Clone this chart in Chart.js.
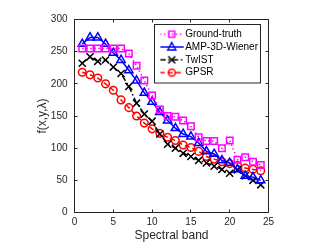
<!DOCTYPE html>
<html>
<head>
<meta charset="utf-8">
<script src="https://cdn.jsdelivr.net/npm/chart.js@4.4.0/dist/chart.umd.min.js"></script>
<style>
  html, body { margin: 0; padding: 0; background: #fff; }
  #wrap { width: 332px; height: 249px; }
</style>
</head>
<body>
<div id="wrap"><canvas id="chart"></canvas></div>
<script>
const bands = [1, 2, 3, 4, 5, 6, 7, 8, 9, 10, 11, 12, 13, 14, 15, 16, 17, 18, 19, 20, 21, 22, 23, 24];

const groundTruth = [255, 255, 255, 255, 255, 255, 247, 228, 205, 182, 160, 150, 149, 143, 134, 117, 111, 111, 100, 112, 82, 86, 79, 74];
const ampWiener = [262, 272, 272, 262, 248, 237, 221, 205, 186, 172, 156, 143, 131, 122, 118, 108, 95, 91, 81, 77, 67, 57, 55, 50];
const twist = [232, 242, 235, 237, 226, 216, 196, 170, 153, 142, 122, 106, 100, 92, 87, 81, 77, 72, 67, 61, 66, 57, 50, 43];
const gpsr = [218, 214, 209, 200, 190, 175, 163, 150, 139, 130, 123, 117, 112, 105, 101, 95, 87, 83, 79, 76, 73, 69, 67, 65];

const seriesNames = ["Ground-truth", "AMP-3D-Wiener", "TwIST", "GPSR"];
const xTicks = [0, 5, 10, 15, 20, 25];
const yTicks = [0, 50, 100, 150, 200, 250, 300];

const AXIS_COLOR = "#262626";
const FONT = "'Liberation Sans', Arial, Helvetica, sans-serif";

const styles = [
    { color: "#ff00ff", dash: [1.5, 2.5], marker: "rect", radius: 4.6 },
    { color: "#0000ff", dash: [], marker: "triangle", radius: 4.8 },
    { color: "#000000", dash: [6, 2.5, 1.5, 2.5], marker: "crossRot", radius: 5 },
    { color: "#ff0000", dash: [5, 3], marker: "circle", radius: 3.8 }
];

// legend glyph: short line with the marker in the middle, like matlab
function legendSample(style) {
    const c = document.createElement("canvas");
    c.width = 26;
    c.height = 12;
    const g = c.getContext("2d");
    g.strokeStyle = style.color;
    g.lineWidth = 1.5;
    g.setLineDash(style.dash);
    g.beginPath();
    g.moveTo(1, 6);
    g.lineTo(25, 6);
    g.stroke();
    g.setLineDash([]);
    g.beginPath();
    if (style.marker === "rect") {
        g.rect(10, 3, 6, 6);
    } else if (style.marker === "triangle") {
        g.moveTo(13, 1.5); g.lineTo(17, 9); g.lineTo(9, 9); g.closePath();
    } else if (style.marker === "crossRot") {
        g.moveTo(9.5, 2.5); g.lineTo(16.5, 9.5);
        g.moveTo(16.5, 2.5); g.lineTo(9.5, 9.5);
    } else {
        g.arc(13, 6, 3.5, 0, Math.PI * 2);
    }
    g.stroke();
    return c;
}

const samples = styles.map(legendSample);

function toPoints(values) {
    return bands.map((b, i) => ({ x: b, y: values[i] }));
}

const datasets = [groundTruth, ampWiener, twist, gpsr].map((values, i) => ({
    label: seriesNames[i],
    data: toPoints(values),
    borderColor: styles[i].color,
    borderWidth: 1.5,
    borderDash: styles[i].dash,
    pointStyle: styles[i].marker,
    pointRadius: styles[i].radius,
    pointBorderWidth: 1.5,
    pointBorderColor: styles[i].color,
    pointBackgroundColor: "rgba(0,0,0,0)",
    fill: false,
    tension: 0
}));

// box around axes with inward ticks + legend outline
const framePlugin = {
    id: "frame",
    beforeDraw(chart) {
        const lg = chart.legend;
        lg.left = 160.4;
        lg.top = 26.4;
        lg.right = 270;
        lg.bottom = 92;
    },
    afterDraw(chart) {
        const { ctx, chartArea: a, scales } = chart;
        const snap = v => Math.round(v - 0.5) + 0.5;
        ctx.save();
        ctx.strokeStyle = AXIS_COLOR;
        ctx.lineWidth = 1;
        ctx.strokeRect(a.left, a.top, a.right - a.left, a.bottom - a.top);
        ctx.beginPath();
        xTicks.forEach(v => {
            const px = snap(scales.x.getPixelForValue(v));
            ctx.moveTo(px, a.bottom); ctx.lineTo(px, a.bottom - 3);
            ctx.moveTo(px, a.top); ctx.lineTo(px, a.top + 3);
        });
        yTicks.forEach(v => {
            const py = snap(scales.y.getPixelForValue(v));
            ctx.moveTo(a.left, py); ctx.lineTo(a.left + 3, py);
            ctx.moveTo(a.right, py); ctx.lineTo(a.right - 3, py);
        });
        ctx.stroke();
        ctx.strokeRect(154.5, 24.5, 106, 58.5);
        ctx.restore();
    }
};

Chart.defaults.font.family = FONT;
Chart.defaults.color = AXIS_COLOR;

new Chart(document.getElementById("chart"), {
    type: "line",
    data: { datasets: datasets },
    options: {
        responsive: true,
        maintainAspectRatio: false,
        animation: false,
        events: [],
        layout: { padding: { left: 0, right: 63.5, top: 19.5, bottom: 0 } },
        scales: {
            x: {
                type: "linear",
                min: 0,
                max: 25,
                afterFit(scale) { scale.height = 36.5; },
                afterBuildTicks(scale) { scale.ticks = xTicks.map(v => ({ value: v })); },
                grid: { display: false, drawTicks: false },
                border: { display: false },
                ticks: { padding: 4, color: AXIS_COLOR, font: { size: 10 } },
                title: {
                    display: true,
                    text: "Spectral band",
                    color: AXIS_COLOR,
                    font: { size: 12 },
                    padding: { top: 0, bottom: 5.8 }
                }
            },
            y: {
                min: 0,
                max: 300,
                afterFit(scale) { scale.width = 74.5; },
                afterBuildTicks(scale) { scale.ticks = yTicks.map(v => ({ value: v })); },
                grid: { display: false, drawTicks: false },
                border: { display: false },
                ticks: { padding: 7, color: AXIS_COLOR, font: { size: 10 } },
                title: {
                    display: true,
                    text: "f(x,y,λ)",
                    color: AXIS_COLOR,
                    font: { size: 12 },
                    padding: { top: 35.3, bottom: 0 }
                }
            }
        },
        plugins: {
            tooltip: { enabled: false },
            legend: {
                position: "chartArea",
                align: "start",
                labels: {
                    usePointStyle: true,
                    pointStyleWidth: 17,
                    padding: 2.8,
                    color: "#000",
                    font: { size: 10 },
                    generateLabels(chart) {
                        const items = Chart.defaults.plugins.legend.labels.generateLabels(chart);
                        items.forEach((item, i) => { item.pointStyle = samples[i]; });
                        return items;
                    }
                }
            }
        }
    },
    plugins: [framePlugin]
});
</script>
</body>
</html>
